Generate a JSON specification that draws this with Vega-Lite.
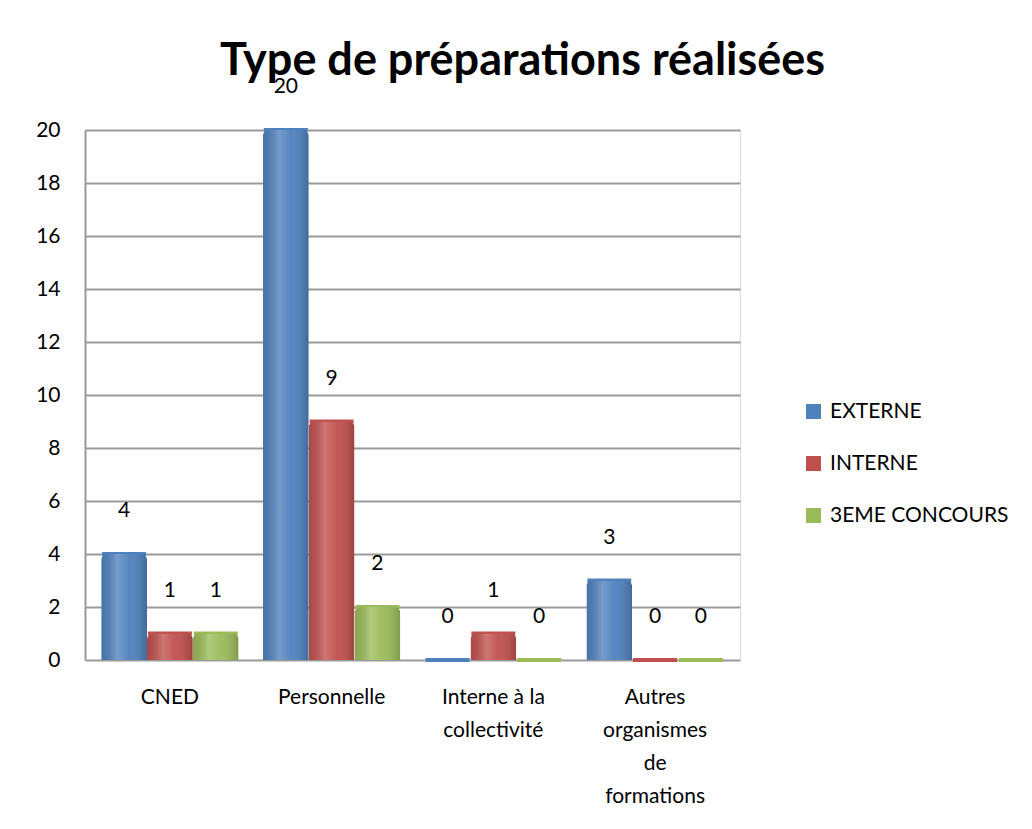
{
  "$schema": "https://vega.github.io/schema/vega-lite/v6.json",
  "autosize": "none",
  "width": 655,
  "height": 530,
  "padding": {"left": 85, "top": 130, "right": 292, "bottom": 169},
  "background": "white",
  "title": {
    "text": "Type de préparations réalisées",
    "font": "Lato",
    "fontSize": 45,
    "fontWeight": "bold",
    "color": "#000000",
    "anchor": "middle",
    "dx": 110,
    "offset": -8
  },
  "data": {
    "values": [
      {"cat": "CNED", "serie": "EXTERNE", "val": 4},
      {"cat": "CNED", "serie": "INTERNE", "val": 1},
      {"cat": "CNED", "serie": "3EME CONCOURS", "val": 1},
      {"cat": "Personnelle", "serie": "EXTERNE", "val": 20},
      {"cat": "Personnelle", "serie": "INTERNE", "val": 9},
      {"cat": "Personnelle", "serie": "3EME CONCOURS", "val": 2},
      {"cat": "Interne à la|collectivité", "serie": "EXTERNE", "val": 0},
      {"cat": "Interne à la|collectivité", "serie": "INTERNE", "val": 1},
      {"cat": "Interne à la|collectivité", "serie": "3EME CONCOURS", "val": 0},
      {"cat": "Autres|organismes|de|formations", "serie": "EXTERNE", "val": 3},
      {"cat": "Autres|organismes|de|formations", "serie": "INTERNE", "val": 0},
      {"cat": "Autres|organismes|de|formations", "serie": "3EME CONCOURS", "val": 0}
    ]
  },
  "encoding": {
    "x": {
      "field": "cat",
      "type": "nominal",
      "sort": null,
      "scale": {"paddingInner": 0.15, "paddingOuter": 0.1},
      "axis": {
        "title": null,
        "labelAngle": 0,
        "labelExpr": "split(datum.value, '|')",
        "labelFont": "Lato",
        "labelFontSize": 21,
        "labelColor": "#000000",
        "labelLineHeight": 33,
        "labelBaseline": "top",
        "labelPadding": 26,
        "domain": false,
        "ticks": false,
        "grid": false
      }
    },
    "xOffset": {
      "field": "serie",
      "type": "nominal",
      "sort": ["EXTERNE", "INTERNE", "3EME CONCOURS"]
    },
    "y": {
      "field": "val",
      "type": "quantitative",
      "scale": {"domain": [0, 20], "nice": false},
      "axis": {
        "title": null,
        "values": [0, 2, 4, 6, 8, 10, 12, 14, 16, 18, 20],
        "labelFont": "Lato",
        "labelFontSize": 21,
        "labelColor": "#000000",
        "labelPadding": 25,
        "ticks": false,
        "domainColor": "#999999",
        "domainWidth": 2,
        "grid": true,
        "gridColor": "#9a9a9a",
        "gridWidth": 2
      }
    }
  },
  "layer": [
    {
      "mark": {"type": "tick", "thickness": 4, "orient": "horizontal", "opacity": 1},
      "encoding": {
        "color": {"field": "serie", "type": "nominal", "sort": ["EXTERNE", "INTERNE", "3EME CONCOURS"],
          "scale": {"domain": ["EXTERNE", "INTERNE", "3EME CONCOURS"], "range": ["#4F81BD", "#C0504D", "#9BBB59"]}},
        "size": {"value": 44}
      }
    },
    {
      "mark": {"type": "bar", "cornerRadiusTopLeft": 6, "cornerRadiusTopRight": 6, "opacity": 1},
      "encoding": {
        "color": {
          "field": "serie",
          "type": "nominal",
          "sort": ["EXTERNE", "INTERNE", "3EME CONCOURS"],
          "scale": {"domain": ["EXTERNE", "INTERNE", "3EME CONCOURS"], "range": ["#4F81BD", "#C0504D", "#9BBB59"]},
          "legend": {
            "title": null,
            "orient": "none",
            "legendX": 718,
            "legendY": 271,
            "symbolType": "square",
            "symbolSize": 225,
            "symbolStrokeWidth": 0,
            "symbolOpacity": 1,
            "labelFont": "Lato",
            "labelFontSize": 21,
            "labelColor": "#000000",
            "labelOffset": 6,
            "labelLimit": 400,
            "rowPadding": 30
          }
        }
      }
    },
    {
      "mark": {
        "type": "bar",
        "cornerRadiusTopLeft": 6,
        "cornerRadiusTopRight": 6,
        "color": {
          "gradient": "linear",
          "x1": 0, "y1": 0, "x2": 1, "y2": 0,
          "stops": [
            {"offset": 0, "color": "rgba(0,0,0,0.10)"},
            {"offset": 0.35, "color": "rgba(255,255,255,0.22)"},
            {"offset": 0.6, "color": "rgba(255,255,255,0.05)"},
            {"offset": 1, "color": "rgba(0,0,0,0.18)"}
          ]
        }
      },
      "encoding": {}
    },
    {
      "mark": {"type": "text", "font": "Lato", "fontSize": 21, "color": "#000000", "dy": -43, "baseline": "middle"},
      "encoding": {"text": {"field": "val", "type": "quantitative"}}
    }
  ]
}
